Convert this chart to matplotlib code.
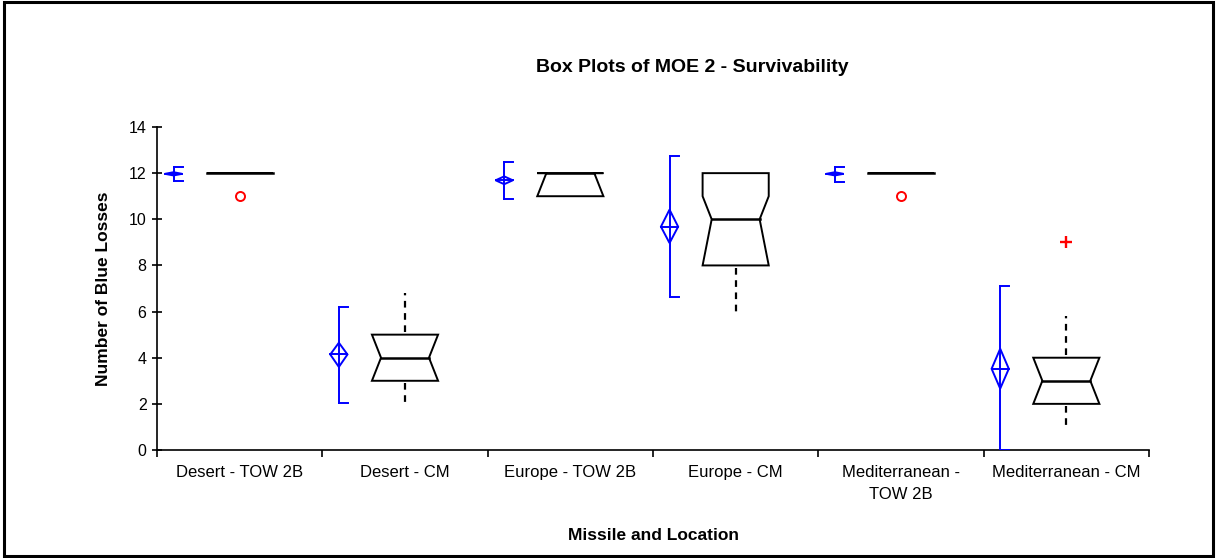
import numpy as np
import matplotlib
matplotlib.use("Agg")
import matplotlib.pyplot as plt
from matplotlib.patches import Polygon, Rectangle

plt.rcParams['font.family'] = ['Liberation Sans', 'DejaVu Sans']

# --- data ---
categories = ["Desert - TOW 2B", "Desert - CM", "Europe - TOW 2B", "Europe - CM",
              "Mediterranean -\nTOW 2B", "Mediterranean - CM"]
# mean diamond + confidence bracket (blue)
means    = [11.97, 4.14, 11.69, 9.68, 11.97, 3.52]
diam_lo  = [11.90, 3.60, 11.52, 8.97, 11.90, 2.66]
diam_hi  = [12.04, 4.65, 11.86, 10.42, 12.04, 4.39]
ci_lo    = [11.65, 2.05, 10.87, 6.64, 11.63, 0.0]
ci_hi    = [12.25, 6.20, 12.48, 12.74, 12.25, 7.13]
# notched boxes (black)
q1       = [12, 3, 11, 8, 12, 2]
median   = [12, 4, 12, 10, 12, 3]
q3       = [12, 5, 12, 12, 12, 4]
notch_lo = [12, 3, 11, 8, 12, 2]
notch_hi = [12, 5, 12, 11, 12, 4]
whisk_lo = [None, 2.0, None, 6.0, None, 1.0]
whisk_hi = [None, 6.8, None, None, None, 5.8]
# outliers: (category index, value, marker)
outlier_cat = [0, 4, 5]
outlier_val = [11, 11, 9]
outlier_mk  = ["o", "o", "+"]

fig = plt.figure(figsize=(12.17, 5.58), dpi=100)
ax = fig.add_axes([157/1217, 1-450/558, (1149-157)/1217, (450-127)/558])

BW = 0.2; INS = 0.055; OFF = -0.4; DW = 0.052; CAP = 0.055
blue = "#0000ff"
dots = (0, (3, 2.5))
for i in range(len(categories)):
    # blue mean / CI marker
    x = i + OFF
    ax.plot([x, x], [ci_lo[i], ci_hi[i]], color=blue, lw=1.4, zorder=3)
    ax.plot([x, x+CAP], [ci_lo[i], ci_lo[i]], color=blue, lw=1.4, zorder=3)
    ax.plot([x, x+CAP], [ci_hi[i], ci_hi[i]], color=blue, lw=1.4, zorder=3)
    ax.add_patch(Polygon([[x, diam_lo[i]], [x+DW, means[i]], [x, diam_hi[i]], [x-DW, means[i]]],
                         closed=True, fill=False, ec=blue, lw=1.4, zorder=3))
    ax.plot([x-DW, x+DW], [means[i], means[i]], color=blue, lw=1.4, zorder=3)
    # notched box
    L, R = i-BW, i+BW
    nlo = max(notch_lo[i], q1[i]); nhi = min(notch_hi[i], q3[i]); m = median[i]
    pts = [[L, q1[i]], [R, q1[i]], [R, nlo], [R-INS, m], [R, nhi], [R, q3[i]],
           [L, q3[i]], [L, nhi], [L+INS, m], [L, nlo]]
    ax.add_patch(Polygon(pts, closed=True, fill=False, ec="k", lw=1.4, zorder=3))
    ax.plot([L+INS, R-INS] if q1[i] != q3[i] else [L, R], [m, m], color="k", lw=1.8, zorder=3)
    if whisk_lo[i] is not None:
        ax.plot([i, i], [q1[i]-0.1, whisk_lo[i]], color="k", lw=1.6, ls=dots, zorder=3)
    if whisk_hi[i] is not None:
        ax.plot([i, i], [q3[i]+0.1, whisk_hi[i]], color="k", lw=1.6, ls=dots, zorder=3)

for c, v, mk in zip(outlier_cat, outlier_val, outlier_mk):
    if mk == "o":
        ax.plot(c, v, mk, mfc="none", mec="red", ms=6.5, mew=1.4, zorder=4)
    else:
        ax.plot(c, v, mk, color="red", ms=9, mew=1.7, zorder=4)

ax.set_xlim(-0.5, len(categories)-0.5)
ax.set_ylim(0, 14)
ax.set_yticks(np.arange(0, 15, 2))
ax.set_xticks(np.arange(-0.5, len(categories), 1.0))
ax.set_xticklabels([])
ax.set_xticks(np.arange(len(categories)), minor=True)
ax.set_xticklabels(categories, minor=True, fontsize=12, linespacing=1.55)
ax.tick_params(axis="x", which="major", direction="out", length=5, width=1.2)
ax.tick_params(axis="x", which="minor", length=0, pad=11)
ax.tick_params(axis="y", direction="inout", length=7, width=1.2, labelsize=11.5, pad=4)
for s in ("top", "right"):
    ax.spines[s].set_visible(False)
for s in ("left", "bottom"):
    ax.spines[s].set_linewidth(1.2)

ax.set_ylabel("Number of Blue Losses", fontsize=12.5, fontweight="bold")
ax.yaxis.set_label_coords(-0.046, 0.5)
ax.set_xlabel("Missile and Location", fontsize=12.5, fontweight="bold")
ax.xaxis.set_label_coords(0.5, -0.24)

fig.text(692/1217, 1-67/558, "Box Plots of MOE 2 - Survivability", ha="center", va="center",
         fontsize=14, fontweight="bold")
fig.patches.append(Rectangle((4/1217, 2/558), 1209/1217, 554/558, transform=fig.transFigure,
                             fill=False, ec="k", lw=2.2))

fig.savefig("out.png", dpi=100)
